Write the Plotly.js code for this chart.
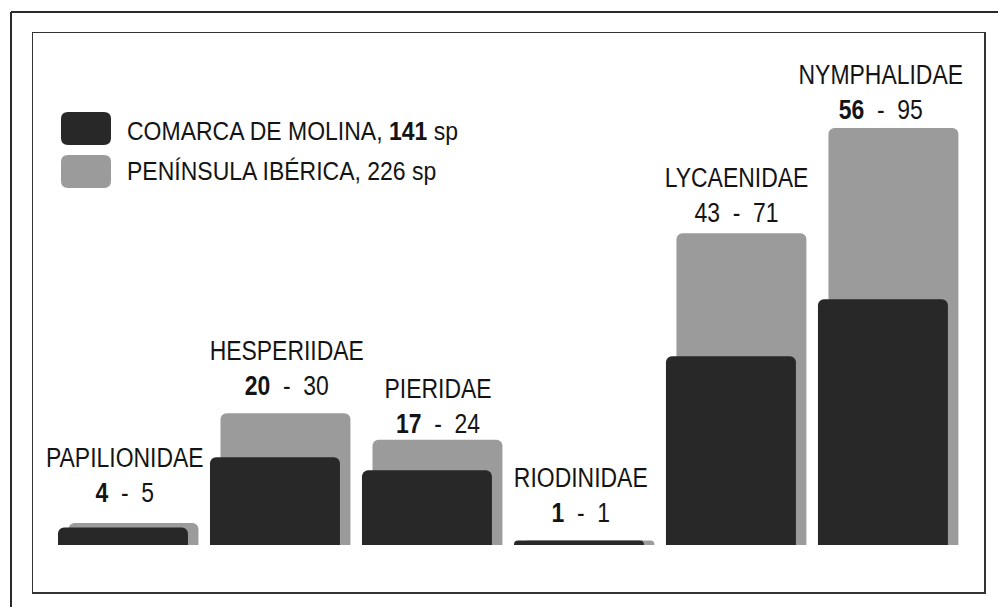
<!DOCTYPE html>
<html>
<head>
<meta charset="utf-8">
<script src="https://cdn.plot.ly/plotly-3.0.1.min.js"></script>
<style>html,body{margin:0;padding:0;background:#fff;}#chart{width:998px;height:607px;}</style>
</head>
<body>
<div id="chart"></div>
<script>
// ---- data ----
const families = ["PAPILIONIDAE", "HESPERIIDAE", "PIERIDAE", "RIODINIDAE", "LYCAENIDAE", "NYMPHALIDAE"];
const molina = [4, 20, 17, 1, 43, 56];     // Comarca de Molina
const iberica = [5, 30, 24, 1, 71, 95];    // Península Ibérica
const seriesNames = ["COMARCA DE MOLINA, <b>141</b> sp", "PENÍNSULA IBÉRICA, 226 sp"];
const boldFamilies = ["PAPILIONIDAE", "HESPERIIDAE", "PIERIDAE", "RIODINIDAE", "NYMPHALIDAE"];

// ---- layout settings (pixels) ----
const W = 998, H = 607;
const L = 33, R = 14, T = 33, B = 15;
const pw = W - L - R, ph = H - T - B;
const px = x => (x - L) / pw;
const py = y => (H - B - y) / ph;
const labelNudgeX = [2, 12, 11, 2, 6, -2];
const labelNudgeY = [13, 10, -1, 11, 3, 1];

const FONT = '"Liberation Sans", Arial, sans-serif';
const NARROW_LABEL = 0.85;   // horizontal condensing (Arial Narrow look)
const NARROW_LEGEND = 0.92;
const DARK = '#282828', GRAY = '#9b9b9b', INK = '#141414';

function roundRect(x0, y0, x1, y1, r) {
  const rx = r / pw, ry = r / ph;
  const a = px(x0), b = px(x1), top = py(y0), bot = py(y1);
  return `M${a + rx},${bot} L${b - rx},${bot} Q${b},${bot} ${b},${bot + ry} L${b},${top - ry} Q${b},${top} ${b - rx},${top} L${a + rx},${top} Q${a},${top} ${a},${top - ry} L${a},${bot + ry} Q${a},${bot} ${a + rx},${bot} Z`;
}

const barW = 0.855;
const shift = 10.5 / 152;

const traces = [
  {
    type: 'bar', x: families, y: iberica, name: 'PENÍNSULA IBÉRICA',
    offset: -barW / 2 + shift, width: barW,
    marker: { color: GRAY, line: { width: 0 }, cornerradius: 6 },
    hoverinfo: 'skip', showlegend: false
  },
  {
    type: 'bar', x: families, y: molina, name: 'COMARCA DE MOLINA',
    offset: -barW / 2, width: barW,
    marker: { color: DARK, line: { width: 0 }, cornerradius: 6 },
    hoverinfo: 'skip', showlegend: false
  }
];

const annotations = families.map((f, i) => {
  const a = boldFamilies.includes(f) ? `<b>${molina[i]}</b>` : `${molina[i]}`;
  return {
    x: f, y: iberica[i], xref: 'x', yref: 'y',
    text: `${f}<br>${a}\u00a0\u00a0-\u00a0\u00a0${iberica[i]}`,
    showarrow: false, xanchor: 'center', yanchor: 'bottom',
    xshift: labelNudgeX[i], yshift: labelNudgeY[i], align: 'center',
    font: { family: FONT, size: 27, color: INK }
  };
});

annotations.push(
  { xref: 'paper', yref: 'paper', x: px(125), y: py(131), xanchor: 'left', yanchor: 'middle',
    text: seriesNames[0], showarrow: false, font: { family: FONT, size: 25, color: INK } },
  { xref: 'paper', yref: 'paper', x: px(125), y: py(171), xanchor: 'left', yanchor: 'middle',
    text: seriesNames[1], showarrow: false, font: { family: FONT, size: 25, color: INK } }
);

const shapes = [
  // outer frame (top and left lines)
  { type: 'line', xref: 'paper', yref: 'paper', x0: px(11), x1: px(1000), y0: py(12), y1: py(12),
    line: { color: '#2a2a2a', width: 2 } },
  { type: 'line', xref: 'paper', yref: 'paper', x0: px(11), x1: px(11), y0: py(12), y1: py(610),
    line: { color: '#2a2a2a', width: 2 } },
  // legend swatches
  { type: 'path', xref: 'paper', yref: 'paper', path: roundRect(61, 112, 111, 145, 7),
    fillcolor: DARK, line: { width: 0 } },
  { type: 'path', xref: 'paper', yref: 'paper', path: roundRect(61, 155, 111, 188, 7),
    fillcolor: GRAY, line: { width: 0 } }
];

const layout = {
  width: W, height: H,
  margin: { l: L, r: R, t: T, b: B, pad: 0 },
  paper_bgcolor: '#fff', plot_bgcolor: '#fff',
  barmode: 'overlay',
  showlegend: false,
  xaxis: {
    type: 'category', range: [-0.592, 5.665],
    showticklabels: false, ticks: '', showgrid: false, zeroline: false,
    showline: true, mirror: true, linecolor: '#333', linewidth: 1.5
  },
  yaxis: {
    range: [-10.706, 116.63],
    showticklabels: false, ticks: '', showgrid: false, zeroline: false,
    showline: true, mirror: true, linecolor: '#333', linewidth: 1.5
  },
  annotations: annotations,
  shapes: shapes,
  font: { family: FONT, color: INK }
};

Plotly.newPlot('chart', traces, layout, { displayModeBar: false, staticPlot: true }).then(() => {
  const texts = document.querySelectorAll('#chart .annotation-text');
  texts.forEach((t, i) => {
    const bb = t.getBBox();
    const leftAligned = i >= families.length;
    const k = leftAligned ? NARROW_LEGEND : NARROW_LABEL;
    const ax = leftAligned ? bb.x : bb.x + bb.width / 2;
    t.setAttribute('transform', `translate(${ax},0) scale(${k},1) translate(${-ax},0)`);
  });
});
</script>
</body>
</html>
